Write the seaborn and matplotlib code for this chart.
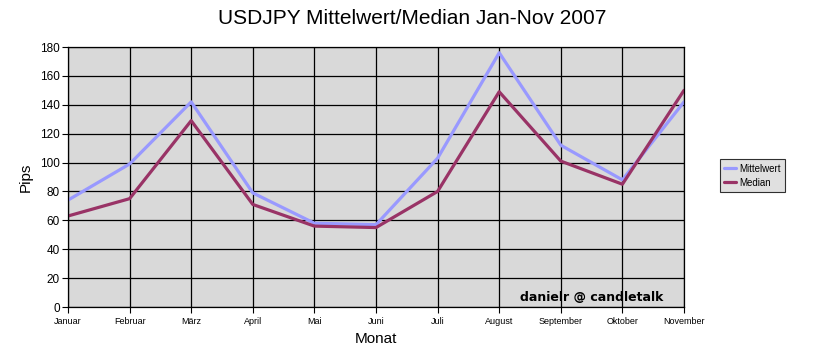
import pandas as pd
import matplotlib
matplotlib.use("Agg")
import matplotlib.pyplot as plt
import seaborn as sns

monate = ['Januar', 'Februar', 'März', 'April', 'Mai', 'Juni', 'Juli',
          'August', 'September', 'Oktober', 'November']
mittelwert = [74, 99, 142, 79, 58, 57, 103, 176, 112, 88, 142]
median = [63, 75, 129, 71, 56, 55, 80, 149, 101, 85, 150]

df = pd.DataFrame({
    'Monat': monate * 2,
    'Pips': mittelwert + median,
    'Serie': ['Mittelwert'] * len(monate) + ['Median'] * len(monate),
})
df['pos'] = list(range(len(monate))) * 2

sns.set_style('white')
plt.rcParams['font.family'] = ['Liberation Sans', 'DejaVu Sans']
plt.rcParams['text.color'] = 'black'
plt.rcParams['axes.labelcolor'] = 'black'
plt.rcParams['xtick.color'] = 'black'
plt.rcParams['ytick.color'] = 'black'

fig = plt.figure(figsize=(8.24, 3.58), dpi=100)
ax = fig.add_axes([68 / 824, 1 - 307 / 358, 616 / 824, 260 / 358])
ax.set_facecolor('#d9d9d9')

sns.lineplot(data=df, x='pos', y='Pips', hue='Serie',
             palette={'Mittelwert': '#9999ff', 'Median': '#993366'},
             linewidth=2.3, ax=ax, legend=True)

ax.set_xlim(0, len(monate) - 1)
ax.set_ylim(0, 180)
ax.set_xticks(range(len(monate)))
ax.set_xticklabels(monate, fontsize=6.5)
ax.set_yticks(range(0, 181, 20))
ax.tick_params(axis='y', labelsize=8.5, length=4, color='black', direction='out', pad=2)
ax.tick_params(axis='x', length=4, color='black', direction='out', pad=3)
ax.tick_params(bottom=True, left=True)
ax.grid(True, color='black', linewidth=0.9)
ax.set_axisbelow(True)
for s in ax.spines.values():
    s.set_color('black')
    s.set_linewidth(0.9)

ax.set_xlabel('Monat', fontsize=11)
ax.xaxis.set_label_coords(0.5, -0.095)
ax.set_ylabel('Pips', fontsize=11)
ax.yaxis.set_label_coords(-0.058, 0.5)

fig.text(0.5, 0.948, 'USDJPY Mittelwert/Median Jan-Nov 2007', ha='center',
         va='center', fontsize=15)
ax.text(0.967, 0.012, 'danielr @ candletalk', transform=ax.transAxes,
        ha='right', va='bottom', fontsize=9, fontweight='bold',
        family='DejaVu Sans')

leg = ax.legend(loc='center left', bbox_to_anchor=(1.05, 0.505), fontsize=7,
                frameon=True, fancybox=False, handlelength=1.2,
                borderpad=0.45, labelspacing=0.45, handletextpad=0.4)
leg.get_frame().set_facecolor('#d9d9d9')
leg.get_frame().set_edgecolor('black')
leg.get_frame().set_linewidth(0.8)

fig.savefig('out.png', dpi=100)
